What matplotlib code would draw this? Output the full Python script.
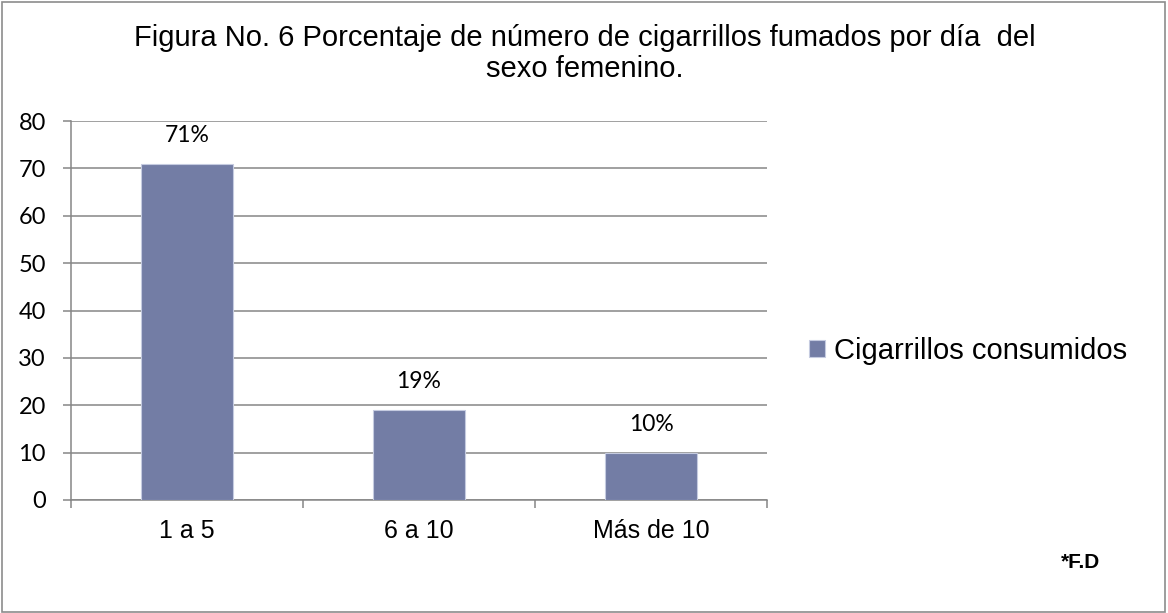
import matplotlib.pyplot as plt
from matplotlib.patches import Rectangle

categories = ["1 a 5", "6 a 10", "Más de 10"]
values = [71, 19, 10]
labels = ["71%", "19%", "10%"]
series_name = "Cigarrillos consumidos"
yticks = [0, 10, 20, 30, 40, 50, 60, 70, 80]

W, H = 1168, 613
fig = plt.figure(figsize=(W / 100, H / 100), dpi=100)
fig.patch.set_facecolor("white")

# outer chart border
fig.add_artist(Rectangle((2 / W, 1 / H), (W - 5) / W, (H - 3) / H,
                         transform=fig.transFigure, fill=False,
                         edgecolor="#8c8c8c", linewidth=1.2))

ax_l, ax_r, ax_t, ax_b = 71, 767, 121, 500
ax = fig.add_axes([ax_l / W, 1 - ax_b / H, (ax_r - ax_l) / W, (ax_b - ax_t) / H])

bar_color = "#737DA5"
grid_color = "#868686"
x = list(range(len(categories)))
bars = ax.bar(x, values, width=0.4, color=bar_color, edgecolor="#c5cbe0",
              linewidth=0.8, zorder=3, label=series_name)

ax.set_xlim(-0.5, len(categories) - 0.5)
ax.set_ylim(0, 80)
ax.set_yticks(yticks)
ax.set_yticklabels([str(v) for v in yticks], fontsize=17, family="Lato")
ax.yaxis.grid(True, color=grid_color, linewidth=1.1, zorder=0)
ax.set_axisbelow(True)

ax.set_xticks(x)
ax.set_xticklabels(categories, fontsize=18, family="Liberation Sans")
ax.tick_params(axis="x", length=0, pad=14)
ax.set_xticks([i - 0.5 for i in range(len(categories) + 1)], minor=True)
ax.tick_params(axis="x", which="minor", length=6, color=grid_color, width=1.1)
ax.tick_params(axis="y", length=6, color=grid_color, width=1.1, pad=12)

for s in ["top", "right"]:
    ax.spines[s].set_visible(False)
for s in ["left", "bottom"]:
    ax.spines[s].set_color(grid_color)
    ax.spines[s].set_linewidth(1.1)

for xi, v, lab in zip(x, values, labels):
    ax.annotate(lab, (xi, v), xytext=(0, 13), textcoords="offset points",
                ha="center", va="bottom", fontsize=16.5, family="Lato")

fig.text(585 / W, 1 - 38 / H,
         "Figura No. 6 Porcentaje de número de cigarrillos fumados por día  del",
         ha="center", va="center", fontsize=21, family="Liberation Sans")
fig.text(585 / W, 1 - 69 / H, "sexo femenino.",
         ha="center", va="center", fontsize=21, family="Liberation Sans")

leg = fig.legend(handles=[bars], labels=[series_name], loc="center left",
                 bbox_to_anchor=(809 / W, 1 - 351 / H), frameon=False,
                 prop={"family": "Liberation Sans", "size": 21},
                 handlelength=0.55, handleheight=0.55, handletextpad=0.3,
                 borderaxespad=0, borderpad=0)

fig.text(1081 / W, 1 - 562 / H, "*F.D", ha="center", va="center",
         fontsize=15, fontweight="bold", family="Liberation Sans")

fig.savefig("out.png", dpi=100)
